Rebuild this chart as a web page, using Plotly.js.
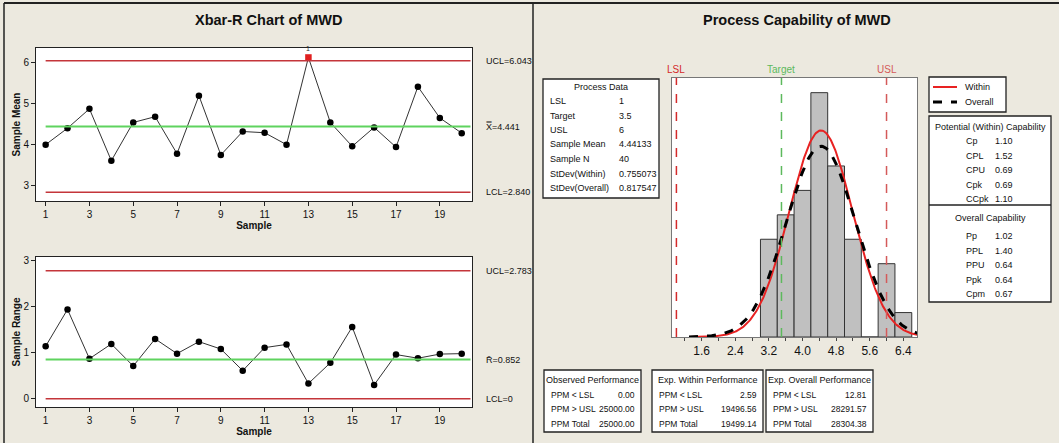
<!DOCTYPE html>
<html><head><meta charset="utf-8">
<script src="https://cdn.plot.ly/plotly-3.0.1.min.js"></script>
<style>html,body{margin:0;padding:0;background:#ECE9DF;}#chart{width:1059px;height:443px;}</style>
</head><body><div id="chart"></div>
<script>
// ---------- data ----------
const samples = [1,2,3,4,5,6,7,8,9,10,11,12,13,14,15,16,17,18,19,20];
const sampleMeans = [4.00,4.40,4.87,3.61,4.54,4.68,3.78,5.19,3.75,4.32,4.29,4.00,6.12,4.54,3.96,4.42,3.94,5.41,4.65,4.28];
const sampleRanges = [1.14,1.94,0.87,1.19,0.71,1.30,0.98,1.24,1.08,0.61,1.11,1.18,0.33,0.78,1.56,0.30,0.96,0.88,0.97,0.98];
const xbarUCL = 6.043, xbarCenter = 4.441, xbarLCL = 2.840;
const rUCL = 2.783, rCenter = 0.852, rLCL = 0;
const xTicks = [1,3,5,7,9,11,13,15,17,19];

const binStarts = [3.0,3.4,3.8,4.2,4.6,5.0,5.4,5.8,6.2];
const binCounts = [4,5,6,10,7,4,0,3,1];
const binWidth = 0.4;
const LSL = 1, TARGET = 3.5, USL = 6;
const sampleMean = 4.44133, sampleN = 40, sdWithin = 0.755073, sdOverall = 0.817547;
const histTickVals = [1.2,1.6,2.0,2.4,2.8,3.2,3.6,4.0,4.4,4.8,5.2,5.6,6.0,6.4];
const histTickText = ['','1.6','','2.4','','3.2','','4.0','','4.8','','5.6','','6.4'];

const processDataLabels = ['LSL','Target','USL','Sample Mean','Sample N','StDev(Within)','StDev(Overall)'];
const processDataValues = ['1','3.5','6','4.44133','40','0.755073','0.817547'];
const withinCapLabels = ['Cp','CPL','CPU','Cpk','CCpk'];
const withinCapValues = ['1.10','1.52','0.69','0.69','1.10'];
const overallCapLabels = ['Pp','PPL','PPU','Ppk','Cpm'];
const overallCapValues = ['1.02','1.40','0.64','0.64','0.67'];
const perfLabels = ['PPM < LSL','PPM > USL','PPM Total'];
const observedPerf = ['0.00','25000.00','25000.00'];
const withinPerf = ['2.59','19496.56','19499.14'];
const overallPerf = ['12.81','28291.57','28304.38'];
const curveNames = ['Within','Overall'];

// ---------- helpers ----------
const W = 1059, H = 443;
const px = x => x / W, py = y => 1 - y / H;
const FONT = "'Liberation Sans', Arial, sans-serif";
const RED = '#C4353A', GREEN = '#5FD35F';
const WITHIN_COLOR = '#E82222', OVERALL_COLOR = '#000000';
const SMALL = 9;

const annotations = [];
const shapes = [];
function txt(x, y, text, opts) {
  annotations.push(Object.assign({xref:'paper', yref:'paper', x:px(x), y:py(y), text:text, showarrow:false,
    xanchor:'left', yanchor:'middle', font:{family:FONT, size:SMALL, color:'#111'}}, opts || {}));
}
function box(x0, y0, x1, y1) {
  shapes.push({type:'rect', xref:'paper', yref:'paper', x0:px(x0), x1:px(x1), y0:py(y0), y1:py(y1),
    fillcolor:'#FFFFFF', line:{color:'#222', width:1.3}, layer:'below'});
}
function pline(x0, y0, x1, y1, w, color, dash) {
  shapes.push({type:'line', xref:'paper', yref:'paper', x0:px(x0), x1:px(x1), y0:py(y0), y1:py(y1),
    line:{color:color || '#222', width:w || 1.5, dash:dash || 'solid'}});
}

// frame
pline(4, 3, 1059, 3, 2);
pline(4, 3, 4, 443, 1.5);
pline(533, 3, 533, 443, 1.5);

// titles
txt(268, 20, '<b>Xbar-R Chart of MWD</b>', {xanchor:'center', font:{family:FONT, size:14.5, color:'#111'}});
txt(797, 20, '<b>Process Capability of MWD</b>', {xanchor:'center', font:{family:FONT, size:14.5, color:'#111'}});

// control lines (in data coordinates)
function hline(xa, ya, y, color, w) {
  shapes.push({type:'line', xref:xa, yref:ya, x0:1, x1:20.4, y0:y, y1:y, line:{color:color, width:w}});
}
hline('x','y',xbarUCL,RED,1.5); hline('x','y',xbarCenter,GREEN,2); hline('x','y',xbarLCL,RED,1.5);
hline('x2','y2',rUCL,RED,1.5); hline('x2','y2',rCenter,GREEN,2); hline('x2','y2',rLCL,RED,1.5);

const limFont = {family:FONT, size:SMALL, color:'#111'};
function limLabel(ya, y, text) {
  annotations.push({xref:'paper', yref:ya, x:px(484), y:y, text:text, showarrow:false, xanchor:'left', font:limFont});
}
limLabel('y', xbarUCL, 'UCL=' + xbarUCL.toFixed(3));
limLabel('y', xbarCenter, 'X\u033F=' + xbarCenter.toFixed(3));
limLabel('y', xbarLCL, 'LCL=' + xbarLCL.toFixed(3));
limLabel('y2', rUCL, 'UCL=' + rUCL.toFixed(3));
limLabel('y2', rCenter, 'R\u0304=' + rCenter.toFixed(3));
limLabel('y2', rLCL, 'LCL=' + rLCL);

// test-1 failure flags above out-of-control points
samples.forEach((s, i) => {
  if (sampleMeans[i] > xbarUCL) {
    annotations.push({xref:'x', yref:'y', x:s, y:sampleMeans[i], text:'1', showarrow:false, yanchor:'bottom',
      yshift:3, font:{family:FONT, size:7, color:'#333'}});
  }
});

// spec lines on histogram
const specs = [[LSL,'LSL','#D42A2A'],[TARGET,'Target','#5DB95D'],[USL,'USL','#D45A5A']];
specs.forEach(s => {
  shapes.push({type:'line', xref:'x3', yref:'y3 domain', x0:s[0], x1:s[0], y0:0, y1:1,
    line:{color:s[2], width:1.5, dash:'dash'}});
  annotations.push({xref:'x3', yref:'paper', x:s[0], y:py(70), text:s[1], showarrow:false,
    xanchor:'center', yanchor:'middle', font:{family:FONT, size:10, color:s[2]}});
});

// legend box (Minitab style)
box(929, 77, 1006, 112);
pline(933, 87, 957, 87, 2, WITHIN_COLOR);
pline(933, 102, 957, 102, 3, OVERALL_COLOR, 'dash');
txt(963, 87, curveNames[0]);
txt(963, 102, curveNames[1]);

// Process data box
box(543, 79, 659, 198);
txt(601, 87, 'Process Data', {xanchor:'center'});
processDataLabels.forEach((l, i) => {
  txt(548, 101 + i * 14.5, l);
  txt(617, 101 + i * 14.5, processDataValues[i]);
});

// capability box
box(929, 116, 1051, 302);
pline(929, 205, 1051, 205, 1.3);
txt(990, 127, 'Potential (Within) Capability', {xanchor:'center'});
withinCapLabels.forEach((l, i) => { txt(964, 141 + i * 14.5, l); txt(993, 141 + i * 14.5, withinCapValues[i]); });
txt(990, 218, 'Overall Capability', {xanchor:'center'});
overallCapLabels.forEach((l, i) => { txt(964, 236 + i * 14.5, l); txt(993, 236 + i * 14.5, overallCapValues[i]); });

// performance boxes
const perfBoxes = [
  [544, 641, 'Observed Performance', observedPerf],
  [652, 763, 'Exp. Within Performance', withinPerf],
  [766, 873, 'Exp. Overall Performance', overallPerf]
];
const perfFont = {family:FONT, size:8.5, color:'#111'};
perfBoxes.forEach(b => {
  box(b[0], 370, b[1], 432);
  txt((b[0] + b[1]) / 2, 380, b[2], {xanchor:'center'});
  perfLabels.forEach((l, i) => {
    txt(b[0] + 5, 395 + i * 14.3, l, {font:perfFont});
    txt(b[1] - 4, 395 + i * 14.3, b[3][i], {xanchor:'right', font:perfFont});
  });
});

// ---------- traces ----------
const ptColor = sampleMeans.map(v => (v > xbarUCL || v < xbarLCL) ? '#E02020' : '#000');
const ptSymbol = sampleMeans.map(v => (v > xbarUCL || v < xbarLCL) ? 'square' : 'circle');
const rColor = sampleRanges.map(v => (v > rUCL || v < rLCL) ? '#E02020' : '#000');

const gridX = [];
for (let i = 0; i <= 280; i++) gridX.push(1.3 + i * 0.02);
const pdf = (x, m, s) => Math.exp(-0.5 * ((x - m) / s) ** 2) / (s * Math.sqrt(2 * Math.PI));

const traces = [
  {type:'scatter', mode:'lines+markers', x:samples, y:sampleMeans, xaxis:'x', yaxis:'y', showlegend:false,
   line:{color:'#333', width:1}, marker:{color:ptColor, symbol:ptSymbol, size:6.5}, hoverinfo:'x+y'},
  {type:'scatter', mode:'lines+markers', x:samples, y:sampleRanges, xaxis:'x2', yaxis:'y2', showlegend:false,
   line:{color:'#333', width:1}, marker:{color:rColor, size:6.5}, hoverinfo:'x+y'},
  {type:'bar', x:binStarts.map(b => b + binWidth / 2), y:binCounts.map(c => c / (sampleN * binWidth)),
   width:binWidth, xaxis:'x3', yaxis:'y3', showlegend:false,
   marker:{color:'#C0C0C0', line:{color:'#333', width:1}}},
  {type:'scatter', mode:'lines', name:curveNames[0], x:gridX, y:gridX.map(x => pdf(x, sampleMean, sdWithin)),
   xaxis:'x3', yaxis:'y3', showlegend:false, line:{color:WITHIN_COLOR, width:2}},
  {type:'scatter', mode:'lines', name:curveNames[1], x:gridX, y:gridX.map(x => pdf(x, sampleMean, sdOverall)),
   xaxis:'x3', yaxis:'y3', showlegend:false, line:{color:OVERALL_COLOR, width:3, dash:'dash'}}
];

const tickFont = {family:FONT, size:10, color:'#111'};
const axTitleFont = {family:FONT, size:10, color:'#111'};
const ctrlX = (dom, anchor) => ({domain:dom, anchor:anchor, range:[0.56, 20.47], tickvals:xTicks, ticks:'outside', ticklen:4,
  tickcolor:'#222', showgrid:false, zeroline:false, showline:true, linecolor:'#222', linewidth:1, mirror:true,
  tickfont:tickFont, title:{text:'<b>Sample</b>', font:axTitleFont, standoff:2}});
const ctrlY = (dom, anchor, range, tv, title) => ({domain:dom, anchor:anchor, range:range, tickvals:tv, ticks:'outside', ticklen:4,
  tickcolor:'#222', showgrid:false, zeroline:false, showline:true, linecolor:'#222', linewidth:1, mirror:true,
  tickfont:tickFont, title:{text:'<b>' + title + '</b>', font:axTitleFont, standoff:0}});

const layout = {
  width:W, height:H, margin:{l:0, r:0, t:0, b:0},
  paper_bgcolor:'#ECE9DF', plot_bgcolor:'#FFFFFF',
  font:{family:FONT, size:10, color:'#111'},
  xaxis: ctrlX([px(36), px(472)], 'y'),
  yaxis: ctrlY([py(201), py(48)], 'x', [2.63, 6.35], [3,4,5,6], 'Sample Mean'),
  xaxis2: ctrlX([px(36), px(472)], 'y2'),
  yaxis2: ctrlY([py(407), py(257)], 'x2', [-0.18, 3.08], [0,1,2,3], 'Sample Range'),
  xaxis3: {domain:[px(672), px(917)], anchor:'y3', range:[0.895, 6.725], tickvals:histTickVals, ticktext:histTickText,
    ticks:'outside', ticklen:3, tickcolor:'#444', showgrid:false, zeroline:false, showline:true, linecolor:'#777',
    linewidth:1, mirror:true, tickfont:{family:FONT, size:12, color:'#111'}},
  yaxis3: {domain:[py(337), py(78)], anchor:'x3', range:[0, 0.6625], showticklabels:false, ticks:'', showgrid:false,
    zeroline:false, showline:true, linecolor:'#777', linewidth:1, mirror:true},
  bargap:0,
  showlegend:false,
  shapes:shapes, annotations:annotations
};

Plotly.newPlot('chart', traces, layout, {displayModeBar:false, staticPlot:true});
</script></body></html>
